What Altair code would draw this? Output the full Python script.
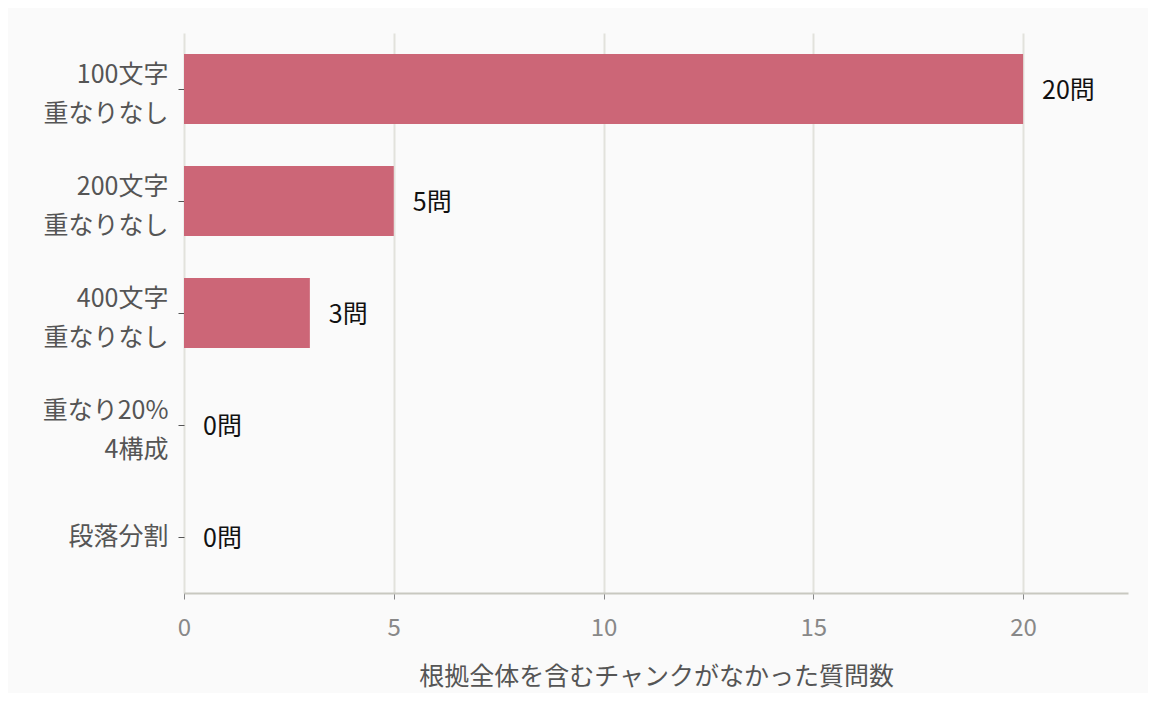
import altair as alt
import pandas as pd

categories = ["100文字|重なりなし", "200文字|重なりなし", "400文字|重なりなし", "重なり20%|4構成", "段落分割"]
counts = [20, 5, 3, 0, 0]
value_labels = ["20問", "5問", "3問", "0問", "0問"]

df = pd.DataFrame({"method": categories, "count": counts, "label": value_labels})

font = "Noto Sans CJK JP"

base = alt.Chart(df).encode(
    y=alt.Y("method:N", sort=categories, title=None,
            scale=alt.Scale(paddingInner=0.375, paddingOuter=0.1875),
            axis=alt.Axis(labelExpr="split(datum.label, '|')", labelFontSize=25,
                          labelColor="#555555", labelFont=font, labelLineHeight=39,
                          labelOffset={"condition": {"test": "indexof(datum.value, '|') >= 0", "value": -14},
                                       "value": 0},
                          labelPadding=10, tickColor="#555555", tickSize=6,
                          domain=False, grid=False, labelLimit=300)),
)

bars = base.mark_bar(color="#cc6677").encode(
    x=alt.X("count:Q", title="根拠全体を含むチャンクがなかった質問数",
            scale=alt.Scale(domain=[0, 22.5], nice=False),
            axis=alt.Axis(values=[0, 5, 10, 15, 20], labelFontSize=24, labelColor="#888888",
                          labelFont=font, labelFlush=False, titleFont=font, titleFontSize=25,
                          titleColor="#555555", titleFontWeight="normal", titlePadding=24,
                          labelPadding=17, domainColor="#c8c8c0", tickColor="#888888", tickSize=6,
                          gridColor="#e2e2dc", gridWidth=2, domainWidth=2)),
)

text = base.mark_text(align="left", dx=19, dy=2, fontSize=25, font=font, color="#111111").encode(
    x="count:Q",
    text="label:N",
)

chart = (bars + text).properties(
    width=944,
    height=560,
    autosize=alt.AutoSizeParams(type="none"),
    padding={"left": 176, "top": 25, "right": 20, "bottom": 100},
    background="#fafafa",
).configure_view(stroke=None)

chart.save("out.html", embed_options={"renderer": "svg", "actions": False})
